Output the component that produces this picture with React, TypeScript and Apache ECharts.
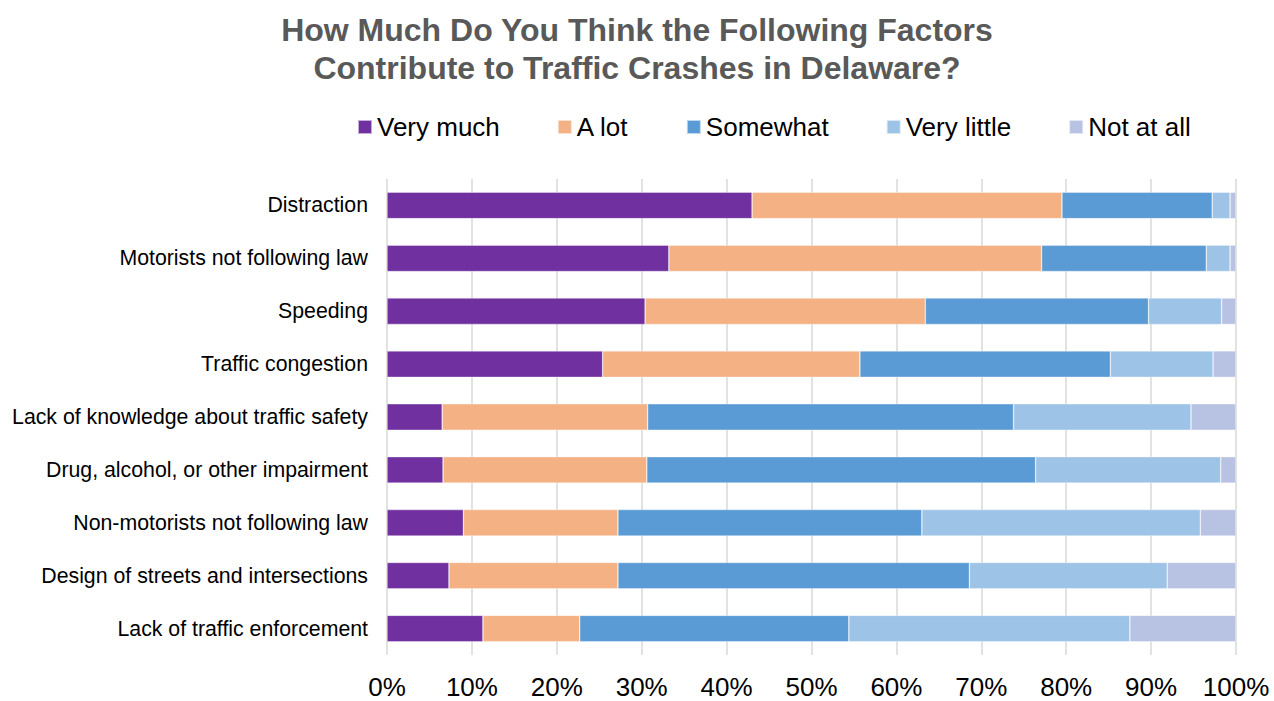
import React, { useEffect, useRef } from "react";
import * as echarts from "echarts";

const categories = [
  "Distraction",
  "Motorists not following law",
  "Speeding",
  "Traffic congestion",
  "Lack of knowledge about traffic safety",
  "Drug, alcohol, or other impairment",
  "Non-motorists not following law",
  "Design of streets and intersections",
  "Lack of traffic enforcement",
];

const veryMuch = [43.0, 33.2, 30.4, 25.4, 6.5, 6.6, 9.0, 7.3, 11.3];
const aLot = [36.5, 43.9, 33.0, 30.3, 24.2, 24.0, 18.2, 19.9, 11.4];
const somewhat = [17.7, 19.4, 26.3, 29.5, 43.1, 45.8, 35.8, 41.4, 31.7];
const veryLittle = [2.1, 2.8, 8.6, 12.1, 20.9, 21.8, 32.8, 23.3, 33.1];
const notAtAll = [0.7, 0.7, 1.7, 2.7, 5.3, 1.8, 4.2, 8.1, 12.5];

const seriesNames = ["Very much", "A lot", "Somewhat", "Very little", "Not at all"];
const seriesColors = ["#7030A0", "#F4B183", "#5B9BD5", "#9DC3E6", "#B8C2E2"];
const seriesData = [veryMuch, aLot, somewhat, veryLittle, notAtAll];

const titleText = "How Much Do You Think the Following Factors\nContribute to Traffic Crashes in Delaware?";

export default function App() {
  const ref = useRef<HTMLDivElement>(null);
  useEffect(() => {
    if (!ref.current) return;
    const chart = echarts.init(ref.current, null, { renderer: "svg" });
    const font = "Liberation Sans, Arial, sans-serif";
    chart.setOption({
      animation: false,
      textStyle: { fontFamily: font },
      title: {
        text: titleText,
        left: "center",
        top: 6,
        textStyle: {
          fontFamily: font,
          fontSize: 32,
          fontWeight: "bold",
          color: "#595959",
          lineHeight: 38,
        },
      },
      legend: {
        left: 352,
        top: 107,
        itemWidth: 14,
        itemHeight: 14,
        itemGap: 57,
        icon: "rect",
        textStyle: { fontFamily: font, fontSize: 26, color: "#000", lineHeight: 30 },
        data: seriesNames,
      },
      grid: { left: 387, right: 38, top: 179, bottom: 46, containLabel: false },
      xAxis: {
        type: "value",
        min: 0,
        max: 100,
        interval: 10,
        axisLine: { show: false },
        axisTick: { show: false },
        splitLine: { show: true, lineStyle: { color: "#D9D9D9", width: 1.5 } },
        axisLabel: {
          formatter: "{value}%",
          fontFamily: font,
          fontSize: 26,
          lineHeight: 26,
          color: "#000",
          margin: 19,
        },
      },
      yAxis: {
        type: "category",
        data: categories,
        inverse: true,
        axisLine: { show: false },
        axisTick: { show: false },
        splitLine: { show: false },
        axisLabel: { fontFamily: font, fontSize: 21.3, color: "#000", margin: 19 },
      },
      series: seriesNames.map((name, i) => ({
        name,
        type: "bar",
        stack: "total",
        barWidth: "50%",
        data: seriesData[i],
        itemStyle: { color: seriesColors[i], borderColor: "rgba(255,255,255,0.6)", borderWidth: 0.6 },
      })),
    });
    return () => chart.dispose();
  }, []);
  return (
    <div
      ref={ref}
      style={{ position: "absolute", left: 0, top: 0, width: 1274, height: 701, background: "#fff" }}
    />
  );
}
